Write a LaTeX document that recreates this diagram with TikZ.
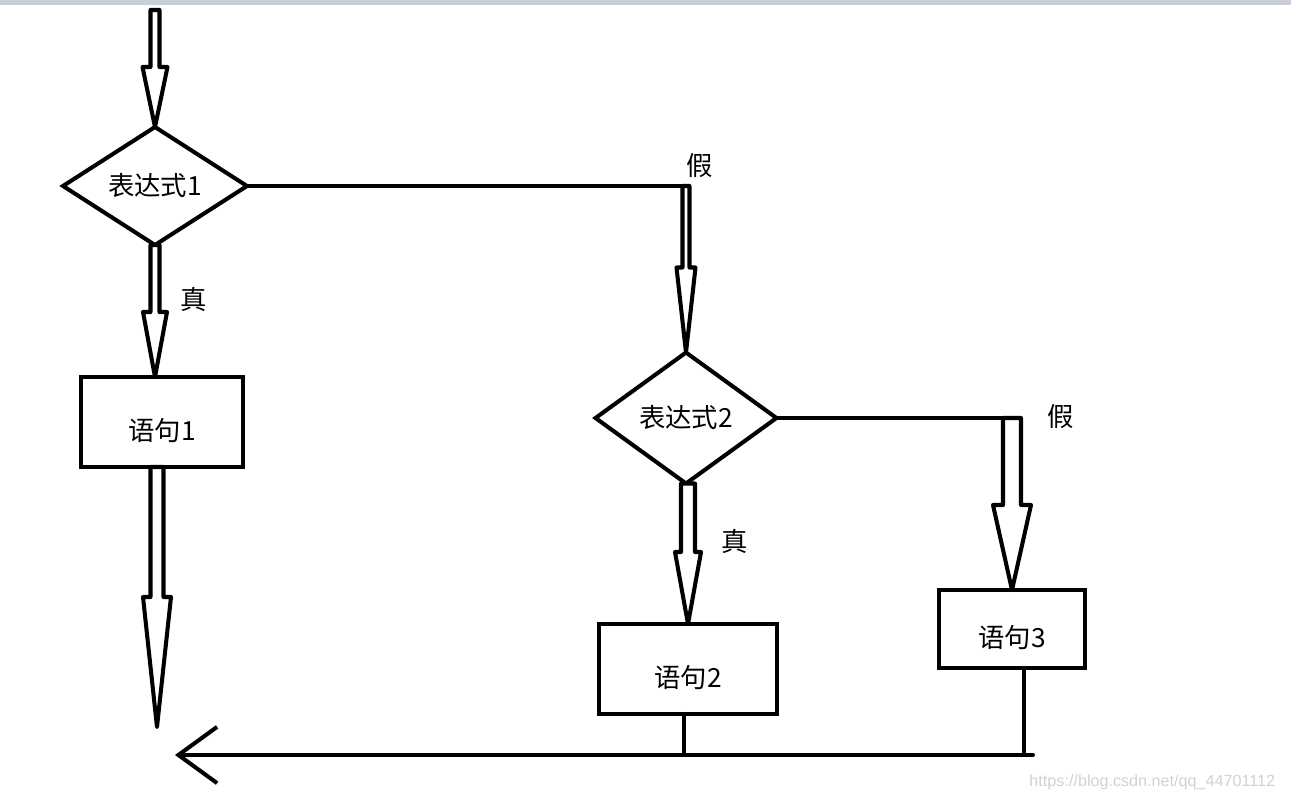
\documentclass[tikz,border=0pt]{standalone}
\usepackage{fontspec}
\setmainfont{Noto Sans CJK SC}
\newfontfamily\wmfont{Liberation Sans}
\usetikzlibrary{shapes.geometric, arrows.meta, calc}
\definecolor{barcol}{RGB}{202,206,220}
\newcommand\pxu{0.02cm}
% hollow arrow: from, to, shaft half width, head half width, head length (px)
\newcommand\hollowarrow[5]{%
  \draw[hollow] let \p1=(#1), \p2=(#2) in
    (\x2-#3*\pxu,\y1) -- (\x2-#3*\pxu,\y2+#5*\pxu) -- (\x2-#4*\pxu,\y2+#5*\pxu) -- (\x2,\y2)
    -- (\x2+#4*\pxu,\y2+#5*\pxu) -- (\x2+#3*\pxu,\y2+#5*\pxu) -- (\x2+#3*\pxu,\y1) -- cycle;}
\begin{document}
\begin{tikzpicture}[x=0.02cm, y=-0.02cm,
    line width=2.3pt,
    every node/.style={font=\fontsize{15}{18}\selectfont},
    cond/.style={diamond, draw, inner sep=0pt, outer sep=0pt},
    stmt/.style={rectangle, draw, inner sep=0pt, outer sep=0pt, text height=21.5pt, text depth=0pt},
    hollow/.style={draw, fill=white, line join=round},
    flow/.style={line cap=round}]
  \useasboundingbox (0,0) rectangle (1291,801);
  \fill[barcol] (0,0) rectangle (1291,5);

  \coordinate (s) at (155,10);
  \node[cond, minimum width=3.68cm, minimum height=2.36cm] (d1) at (155,186) {表达式1};
  \node[stmt, minimum width=3.24cm, minimum height=1.8cm] (b1) at (162,422) {语句1};
  \coordinate (e1) at (157,727);
  \coordinate (k1) at (685,186);
  \node[cond, minimum width=3.62cm, minimum height=2.62cm] (d2) at (686,418) {表达式2};
  \coordinate (k2) at (1012,418);
  \node[stmt, minimum width=3.56cm, minimum height=1.8cm] (b2) at (688,669) {语句2};
  \node[stmt, minimum width=2.92cm, minimum height=1.56cm] (b3) at (1012,629) {语句3};
  \coordinate (j2) at (684,755);
  \coordinate (j3) at (1024,755);
  \coordinate (r) at (1033,755);
  \coordinate (out) at (175,755);

  \node (t1) at (194,299) {真};
  \node (f1) at (700,166) {假};
  \node (t2) at (735,541) {真};
  \node (f2) at (1061,417) {假};

  % connectors
  \draw[flow] (d1.east) -- (k1);
  \draw[flow] (d2.east) -- (k2);
  \hollowarrow{s}{d1.north}{4.5}{12.5}{60}
  \hollowarrow{d1.south}{d1.south |- b1.north}{4.5}{12}{65}
  \hollowarrow{b1.south}{e1}{6.5}{14}{130}
  \hollowarrow{k1}{d2.north}{3.5}{9.5}{85}
  \hollowarrow{d2.south}{b2.north}{7}{13}{72}
  \hollowarrow{k2}{b3.north}{9}{19}{85}
  \draw[flow] (j2 |- b2.south) -- (j2);
  \draw[flow] (j3 |- b3.south) -- (j3);
  \draw[flow, -{Straight Barb[length=22pt, width=32pt]}] (r) -- (out);

  \node[font=\wmfont\fontsize{9.2}{11}\selectfont, text=black!18, anchor=east] (wm) at (1283,782) {https://blog.csdn.net/qq\_44701112};
\end{tikzpicture}
\end{document}
